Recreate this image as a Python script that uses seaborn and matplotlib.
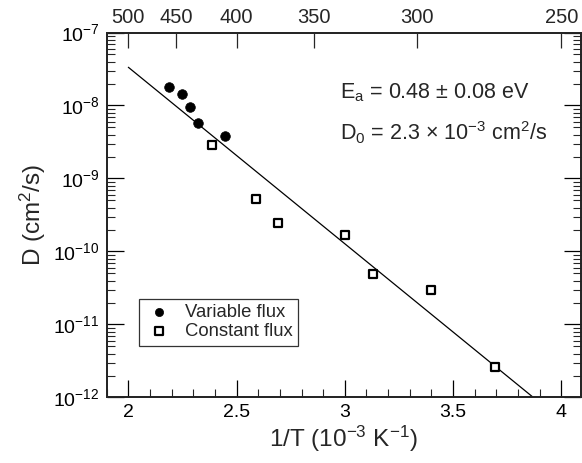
import matplotlib
matplotlib.use("Agg")
import matplotlib.pyplot as plt
import matplotlib.ticker as mticker
import numpy as np
import pandas as pd
import seaborn as sns

# ---- data ----
var_x = [2.188, 2.249, 2.285, 2.320, 2.448]          # 1/T (1e-3 K^-1)
var_D = [1.77e-8, 1.42e-8, 9.4e-9, 5.8e-9, 3.8e-9]   # cm^2/s
const_x = [2.386, 2.589, 2.692, 3.000, 3.132, 3.398, 3.694]
const_D = [2.85e-9, 5.3e-10, 2.43e-10, 1.67e-10, 4.9e-11, 3.0e-11, 2.64e-12]
fit_x = [2.0, 3.9]
fit_D = [3.34e-8, 8.5e-13]
top_T = [500, 450, 400, 350, 300, 250]                # K
top_labels = ["500", "450", "400", "350", "300", "250"]

sns.set_theme(style="ticks")
plt.rcParams["font.family"] = ["Liberation Sans", "DejaVu Sans"]
plt.rcParams["mathtext.fontset"] = "custom"
plt.rcParams["mathtext.rm"] = "Liberation Sans"
plt.rcParams["mathtext.it"] = "Liberation Sans:italic"
plt.rcParams["mathtext.default"] = "regular"

fig = plt.figure(figsize=(5.82, 4.63), dpi=100)
ax = fig.add_axes([0.1833, 0.1415, 0.8147, 0.7883])

df_var = pd.DataFrame({"x": var_x, "D": var_D})
df_const = pd.DataFrame({"x": const_x, "D": const_D})
df_fit = pd.DataFrame({"x": fit_x, "D": fit_D})

sns.lineplot(data=df_fit, x="x", y="D", color="black", linewidth=0.9, ax=ax,
             legend=False)
sns.scatterplot(data=df_var, x="x", y="D", marker="o", color="black", s=48,
                edgecolor="black", linewidth=0.5, ax=ax, label="Variable flux",
                zorder=3)
sns.scatterplot(data=df_const, x="x", y="D", marker="s", facecolor="white",
                edgecolor="black", linewidth=1.6, s=36, ax=ax,
                label="Constant flux", zorder=3)

ax.set_yscale("log")
ax.set_xlim(1.9, 4.09)
ax.set_ylim(1e-12, 1e-7)

ax.xaxis.set_major_locator(mticker.FixedLocator([2, 2.5, 3, 3.5, 4]))
ax.xaxis.set_major_formatter(mticker.FixedFormatter(["2", "2.5", "3", "3.5", "4"]))
ax.xaxis.set_minor_locator(mticker.MultipleLocator(0.1))
ax.yaxis.set_major_locator(mticker.LogLocator(base=10, numticks=10))
ax.yaxis.set_minor_locator(mticker.LogLocator(base=10, subs=np.arange(2, 10), numticks=20))
ax.yaxis.set_minor_formatter(mticker.NullFormatter())

ax.tick_params(axis="both", which="major", direction="in", length=12, width=0.9,
               labelsize=14, colors="black", pad=5)
ax.tick_params(axis="both", which="minor", direction="in", length=6, width=0.8)
ax.tick_params(axis="y", which="both", right=True)
ax.tick_params(axis="x", which="both", top=False)
for sp in ax.spines.values():
    sp.set_linewidth(1.2)
    sp.set_color("black")
    sp.set_visible(True)

ax.set_xlabel(r"1/T (10$^{-3}$ K$^{-1}$)", fontsize=17.5, labelpad=2)
ax.set_ylabel(r"D (cm$^2$/s)", fontsize=17.5, labelpad=4)

axt = ax.twiny()
axt.set_xlim(ax.get_xlim())
axt.set_xticks([1000.0 / t for t in top_T])
axt.set_xticklabels(top_labels)
axt.xaxis.set_minor_locator(mticker.NullLocator())
axt.tick_params(axis="x", which="major", direction="in", length=11, width=0.9,
                labelsize=14.5, pad=4)

ax.text(0.492, 0.8205, r"E$_\mathrm{a}$ = 0.48 $\pm$ 0.08 eV", transform=ax.transAxes,
        fontsize=15.5, va="baseline", ha="left")
ax.text(0.492, 0.705, r"D$_0$ = 2.3 $\times$ 10$^{-3}$ cm$^2$/s", transform=ax.transAxes,
        fontsize=15.5, va="baseline", ha="left")

leg = ax.legend(loc="upper left", bbox_to_anchor=(0.068, 0.27), borderaxespad=0,
                fontsize=13.3, frameon=True, fancybox=False, handletextpad=0.6,
                handlelength=1.6, borderpad=0.28, labelspacing=0.12, markerscale=0.85)
leg.get_frame().set_edgecolor("black")
leg.get_frame().set_linewidth(0.9)

fig.savefig("out.png", dpi=100)
